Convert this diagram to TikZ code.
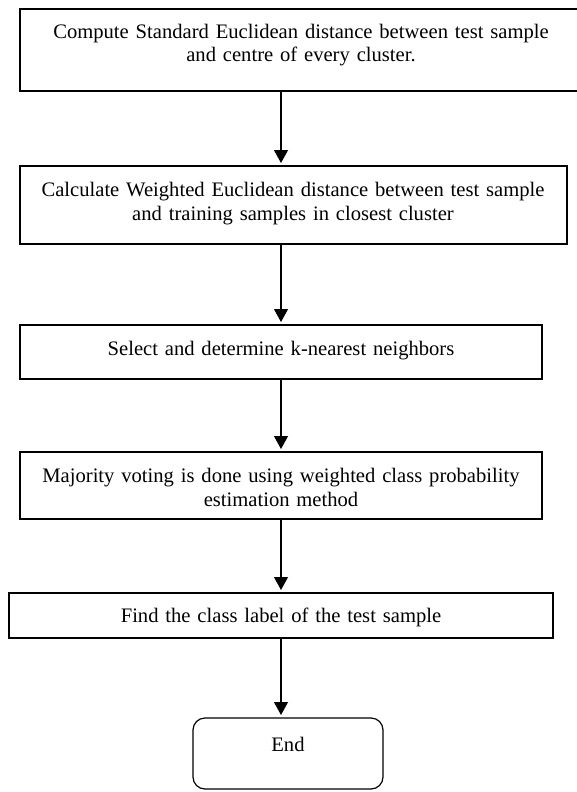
\documentclass[tikz,border=0pt]{standalone}
\usepackage{fontspec}
\setmainfont{Liberation Serif}
\usetikzlibrary{arrows.meta}
\begin{document}
\begin{tikzpicture}[x=1pt,y=1pt,
  box/.style={draw, line width=1.2pt, rectangle, anchor=north west, inner sep=0pt, outer sep=0pt},
  txt/.style={anchor=base, align=center, inner sep=0pt, font=\fontsize{20.6}{24}\selectfont},
  arr/.style={line width=1.2pt, -{Triangle[width=14pt,length=13pt]}, shorten >=3pt}]
\useasboundingbox (0,0) rectangle (576,-792);
% boxes
\node[box, minimum width=560pt, minimum height=82pt] (b1) at (20,-9) {};
\node[box, minimum width=547pt, minimum height=78pt] (b2) at (20,-166) {};
\node[box, minimum width=522pt, minimum height=54pt] (b3) at (20,-325) {};
\node[box, minimum width=522pt, minimum height=67pt] (b4) at (20,-452) {};
\node[box, minimum width=544pt, minimum height=45pt] (b5) at (9,-593) {};
\node[box, rounded corners=12pt, minimum width=190pt, minimum height=71pt] (b6) at (193,-718) {};
% texts
\node[txt, text width=540pt] (t1) at (301,-38) {Compute Standard Euclidean distance between test sample\\and centre of every cluster.};
\node[txt, text width=530pt] (t2) at (293,-196) {Calculate Weighted Euclidean distance between test sample\\and training samples in closest cluster};
\node[txt, text width=510pt] (t3) at (281,-355) {Select and determine k-nearest neighbors};
\node[txt, text width=510pt] (t4) at (281,-482) {Majority voting is done using weighted class probability\\estimation method};
\node[txt, text width=530pt] (t5) at (281,-622) {Find the class label of the test sample};
\node[txt, text width=180pt] (t6) at (288,-751) {End};
% connectors
\coordinate (ax) at (281,0);
\draw[arr] (b1.south -| ax) -- (b2.north -| ax);
\draw[arr] (b2.south -| ax) -- (b3.north -| ax);
\draw[arr] (b3.south -| ax) -- (b4.north -| ax);
\draw[arr] (b4.south -| ax) -- (b5.north -| ax);
\draw[arr] (b5.south -| ax) -- (b6.north -| ax);
\end{tikzpicture}
\end{document}
